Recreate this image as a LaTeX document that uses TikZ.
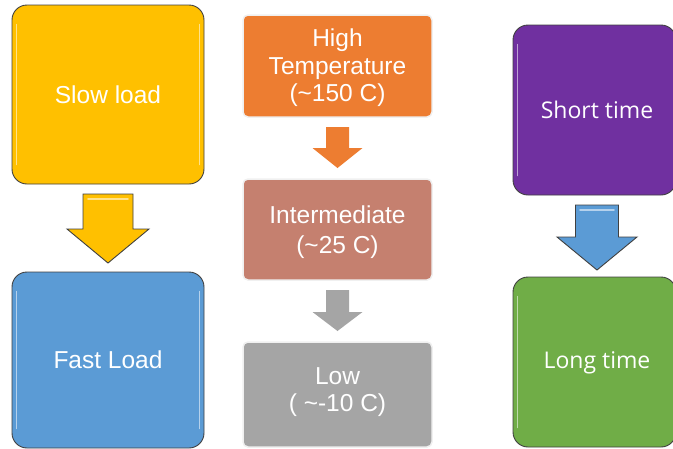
\documentclass[tikz,border=0pt]{standalone}
\usepackage{fontspec}
\setmainfont{Liberation Sans}
\newfontfamily\rightfont{Open Sans}
\definecolor{cyellow}{HTML}{FFC000}
\definecolor{cblue}{HTML}{5B9BD5}
\definecolor{corange}{HTML}{ED7D31}
\definecolor{cmid}{HTML}{C5806F}
\definecolor{cgray}{HTML}{A5A5A5}
\definecolor{cpurple}{HTML}{7030A0}
\definecolor{cgreen}{HTML}{70AD47}
\definecolor{cedge}{HTML}{404040}
\tikzset{
  bevelbox/.style={draw=cedge, line width=0.9pt, rounded corners=15pt, text=white,
    font=\fontsize{24.5}{27}\selectfont, align=center, inner sep=0pt},
  flatbox/.style={rounded corners=5pt, draw=black!6, line width=1.5pt, inner sep=0pt},
  boxtext/.style={text=white, font=\fontsize{24.5}{27.5}\selectfont, align=center, inner sep=0pt},
  blockarrow/.style={draw=cedge, line width=0.9pt, line join=miter},
  flatarrow/.style={draw=none},
  shine/.style={draw=white, opacity=0.55, line width=1.6pt, line cap=round}
}
% #1 style, #2 colour, #3 centre x, #4 shaft half, #5 head half, #6 top, #7 head y, #8 tip
\newcommand{\barrow}[8]{%
  \path[#1, fill=#2] (#3-#4,#6) -- (#3+#4,#6) -- (#3+#4,#7) -- (#3+#5,#7) -- (#3,#8)
     -- (#3-#5,#7) -- (#3-#4,#7) -- cycle;}
\begin{document}
\begin{tikzpicture}[x=1pt,y=-1pt]
\useasboundingbox (0,0) rectangle (673,448);
\clip (0,0) rectangle (673,448);
% left column
\node[bevelbox, fill=cyellow, minimum width=192pt, minimum height=179pt] (slow) at (108,94.5) {Slow load};
\node[bevelbox, fill=cblue, minimum width=192pt, minimum height=176pt] (fast) at (108,360) {Fast Load};
\draw[shine] ([shift={(5pt,-20pt)}]slow.north west) -- ([shift={(5pt,20pt)}]slow.south west);
\draw[shine] ([shift={(-5pt,-20pt)}]slow.north east) -- ([shift={(-5pt,20pt)}]slow.south east);
\draw[shine] ([shift={(5pt,-20pt)}]fast.north west) -- ([shift={(5pt,20pt)}]fast.south west);
\draw[shine] ([shift={(-5pt,-20pt)}]fast.north east) -- ([shift={(-5pt,20pt)}]fast.south east);
\barrow{blockarrow}{cyellow}{108}{25}{41}{194}{229}{263}
\draw[shine] (88,199) -- (128,199);
% middle column
\node[flatbox, fill=corange, minimum width=189pt, minimum height=102pt] (high) at (337.5,66) {};
\node[boxtext] (hightxt) at (337.5,68) {High\\Temperature\\(\char`\~150 C)};
\node[flatbox, fill=cmid, minimum width=189pt, minimum height=101pt] (mid) at (337.5,229.5) {};
\node[boxtext, font=\fontsize{24.5}{30}\selectfont] (midtxt) at (337.5,232) {Intermediate\\(\char`\~25 C)};
\node[flatbox, fill=cgray, minimum width=189pt, minimum height=105pt] (low) at (337.5,394.5) {};
\node[boxtext] (lowtxt) at (337.5,392) {Low\\( \char`\~-10 C)};
\barrow{flatarrow}{corange}{337.5}{11.5}{25}{127}{148}{168}
\barrow{flatarrow}{cgray}{337.5}{11.5}{25}{290}{312}{331}
% right column
\node[bevelbox, fill=cpurple, minimum width=163pt, minimum height=170pt] (short) at (594.5,110) {};
\node[text=white, font=\rightfont\fontsize{23}{27}\selectfont] (shorttxt) at (597,110) {Short time};
\node[bevelbox, fill=cgreen, minimum width=163pt, minimum height=170pt] (long) at (594.5,362) {};
\node[text=white, font=\rightfont\fontsize{23}{27}\selectfont] (longtxt) at (597,363) {Long time};
\draw[shine] ([shift={(5pt,-20pt)}]short.north west) -- ([shift={(5pt,20pt)}]short.south west);
\draw[shine] ([shift={(5pt,-20pt)}]long.north west) -- ([shift={(5pt,20pt)}]long.south west);
\barrow{blockarrow}{cblue}{597}{21.5}{40}{205}{237}{270}
\draw[shine] (580,210) -- (614,210);
\end{tikzpicture}
\end{document}
